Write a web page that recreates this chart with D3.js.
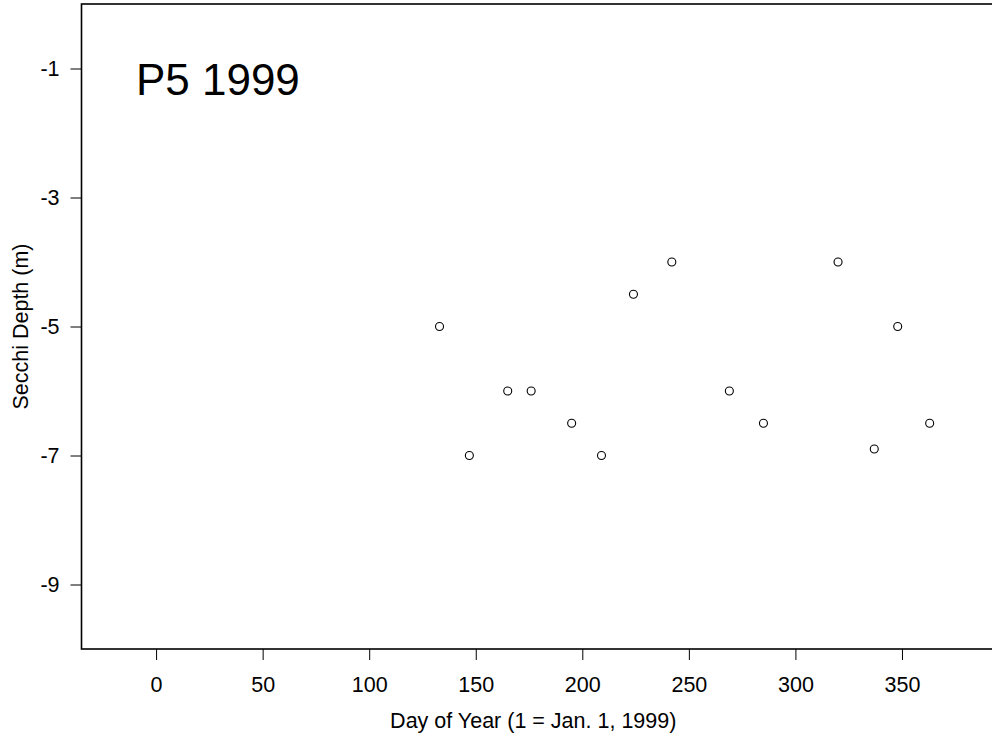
<!DOCTYPE html>
<html>
<head>
<meta charset="utf-8">
<script src="https://cdn.jsdelivr.net/npm/d3@7"></script>
<style>
  body { margin: 0; background: #fff; }
  svg { display: block; font-family: "Liberation Sans", Arial, sans-serif; }
</style>
</head>
<body>
<svg id="chart" width="992" height="740"></svg>
<script>
"use strict";

var width = 992;
var height = 740;

// day of year and secchi depth readings, P5 1999
var days = [133, 147, 165, 176, 195, 209, 224, 242, 269, 285, 320, 337, 348, 363];
var depth = [-5, -7, -6, -6, -6.5, -7, -4.5, -4, -6, -6.5, -4, -6.9, -5, -6.5];

var xTicks = [0, 50, 100, 150, 200, 250, 300, 350];
var yTicks = [-1, -3, -5, -7, -9];

var svg = d3.select("#chart").attr("width", width).attr("height", height);

// plot region runs off the right edge of the page
var plotL = 81.5, plotT = 4, plotR = 1000, plotB = 649;

var x = d3.scaleLinear().domain([-35, 396]).range([plotL, plotR]);
var y = d3.scaleLinear().domain([0, -10]).range([plotT, plotB]);

var xAxis = svg.append("g").attr("transform", "translate(0," + plotB + ")")
  .call(d3.axisBottom(x).tickValues(xTicks).tickFormat(d3.format("d")).tickSize(11).tickSizeOuter(0).tickPadding(17));

var yAxis = svg.append("g").attr("transform", "translate(" + plotL + ",0)")
  .call(d3.axisLeft(y).tickValues(yTicks).tickFormat(function (d) { return String(d); }).tickSize(11).tickSizeOuter(0).tickPadding(11));

[xAxis, yAxis].forEach(function (g) {
  g.select(".domain").remove();
  g.selectAll(".tick line").attr("stroke", "#000").attr("stroke-width", 1);
  g.selectAll(".tick text").attr("fill", "#000").style("font-size", "21.5px").style("font-family", "\"Liberation Sans\", Arial, sans-serif");
});

// box around plot
svg.append("rect")
  .attr("x", plotL).attr("y", plotT)
  .attr("width", plotR - plotL).attr("height", plotB - plotT)
  .attr("fill", "none").attr("stroke", "#000").attr("stroke-width", 1.6);

svg.selectAll("circle.pt").data(days).enter().append("circle")
  .attr("class", "pt")
  .attr("cx", function (d) { return x(d); })
  .attr("cy", function (d, i) { return y(depth[i]); })
  .attr("r", 4)
  .attr("fill", "none")
  .attr("stroke", "#000")
  .attr("stroke-width", 1.1);

svg.append("text")
  .attr("x", x(29)).attr("y", 95)
  .attr("text-anchor", "middle")
  .style("font-size", "44px")
  .text("P5 1999");

svg.append("text")
  .attr("x", (plotL + 985) / 2).attr("y", 728)
  .attr("text-anchor", "middle")
  .style("font-size", "21.5px")
  .text("Day of Year (1 = Jan. 1, 1999)");

svg.append("text")
  .attr("transform", "translate(28," + (plotT + plotB) / 2 + ") rotate(-90)")
  .attr("text-anchor", "middle")
  .style("font-size", "21.5px")
  .text("Secchi Depth (m)");
</script>
</body>
</html>
